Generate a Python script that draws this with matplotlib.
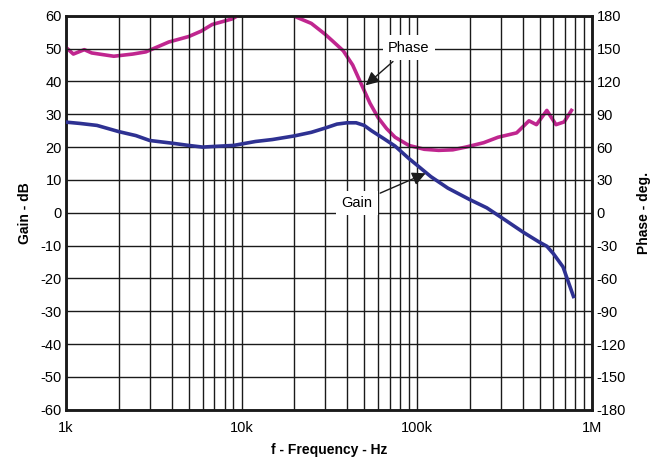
import matplotlib.pyplot as plt
import numpy as np
from matplotlib.ticker import FixedLocator, NullFormatter

plt.rcParams["font.family"] = ["Liberation Sans", "DejaVu Sans"]
plt.rcParams["axes.unicode_minus"] = False

# gain curve (frequency in kHz, gain in dB)
gain_f = [1.0, 1.2, 1.5, 2.0, 2.5, 3.0, 4.0, 5.0, 6.0, 7.0, 9.0, 12, 15, 20, 25,
          30, 35, 40, 45, 50, 55, 65, 75, 90, 100, 120, 150, 200, 250, 300, 400,
          450, 500, 550, 600, 680, 780]
gain_db = [27.6, 27.2, 26.6, 24.7, 23.5, 22.0, 21.2, 20.5, 20.0, 20.2, 20.5, 21.7,
           22.3, 23.4, 24.5, 25.8, 27.0, 27.4, 27.4, 26.6, 25.0, 22.5, 20.3, 16.5,
           14.5, 11.0, 7.5, 4.0, 1.5, -1.3, -5.8, -7.5, -9.0, -10.2, -12.5, -16.5,
           -25.5]

# phase curve (frequency in kHz, phase in degrees)
phase_f = [1.0, 1.1, 1.27, 1.4, 1.87, 2.4, 2.85, 3.85, 5.0, 5.9, 6.8, 8.8, 10,
           15, 20.7, 25, 30, 33, 38, 43, 48, 54, 60, 67, 75, 90, 110, 133, 160,
           190, 240, 290, 370, 435, 480, 550, 620, 690, 760]
phase_deg = [151, 145, 149, 146, 143, 145, 147, 156, 161, 166, 172, 177, 182,
             190, 178.5, 173, 163, 157, 148, 135, 118, 100, 87, 77, 69, 61.5, 58,
             57, 57.5, 60, 64, 69, 73, 84, 80.5, 93.5, 80.5, 83, 93.5]

fig = plt.figure(figsize=(6.51, 4.63), dpi=100)
ax = fig.add_axes([0.1015, 0.115, 0.8085, 0.851])
ax2 = ax.twinx()

gain_c = "#2e3192"
phase_c = "#c0268f"

ax.plot(np.array(gain_f) * 1e3, gain_db, color=gain_c, lw=2.6, zorder=5)
ax2.plot(np.array(phase_f) * 1e3, phase_deg, color=phase_c, lw=2.6, zorder=5)

ax.set_xscale("log")
ax.set_xlim(1e3, 1e6)
ax.set_ylim(-60, 60)
ax2.set_ylim(-180, 180)
ax.set_yticks(np.arange(-60, 61, 10))
ax2.set_yticks(np.arange(-180, 181, 30))
ax.xaxis.set_major_locator(FixedLocator([1e3, 1e4, 1e5, 1e6]))
ax.set_xticklabels(["1k", "10k", "100k", "1M"])
minors = [m * 10 ** d for d in range(3, 6) for m in range(2, 10)]
ax.xaxis.set_minor_locator(FixedLocator(minors))
ax.xaxis.set_minor_formatter(NullFormatter())

ax.grid(True, which="both", axis="x", color="#1a1a1a", lw=1.0)
ax.grid(True, which="major", axis="y", color="#1a1a1a", lw=1.0)
ax.set_axisbelow(True)

for a in (ax, ax2):
    a.tick_params(which="both", length=0, labelsize=10.5, pad=3)
    for s in a.spines.values():
        s.set_linewidth(1.8)
        s.set_color("#1a1a1a")
ax.tick_params(axis="x", pad=8)

ax.set_xlabel("f - Frequency - Hz", fontsize=10, fontweight="bold", labelpad=6)
ax.set_ylabel("Gain - dB", fontsize=10, fontweight="bold", labelpad=6)
ax2.set_ylabel("Phase - deg.", fontsize=10, fontweight="bold", labelpad=8)

arrow = dict(arrowstyle="-|>", color="#1a1a1a", lw=1.0, mutation_scale=20,
             shrinkA=2, shrinkB=0)
box = dict(boxstyle="square,pad=0.35", fc="white", ec="none")
ax.annotate("Phase", xy=(51e3, 38.8), xytext=(90e3, 50.3), fontsize=10.5,
            ha="center", va="center", bbox=box, arrowprops=arrow, zorder=6)
ax.annotate("Gain", xy=(112e3, 12), xytext=(45.5e3, 2.9), fontsize=10.5,
            ha="center", va="center", bbox=box, arrowprops=arrow, zorder=6)

ax.set_zorder(ax2.get_zorder() + 1)
ax.patch.set_visible(False)

fig.savefig("out.png", dpi=100)
